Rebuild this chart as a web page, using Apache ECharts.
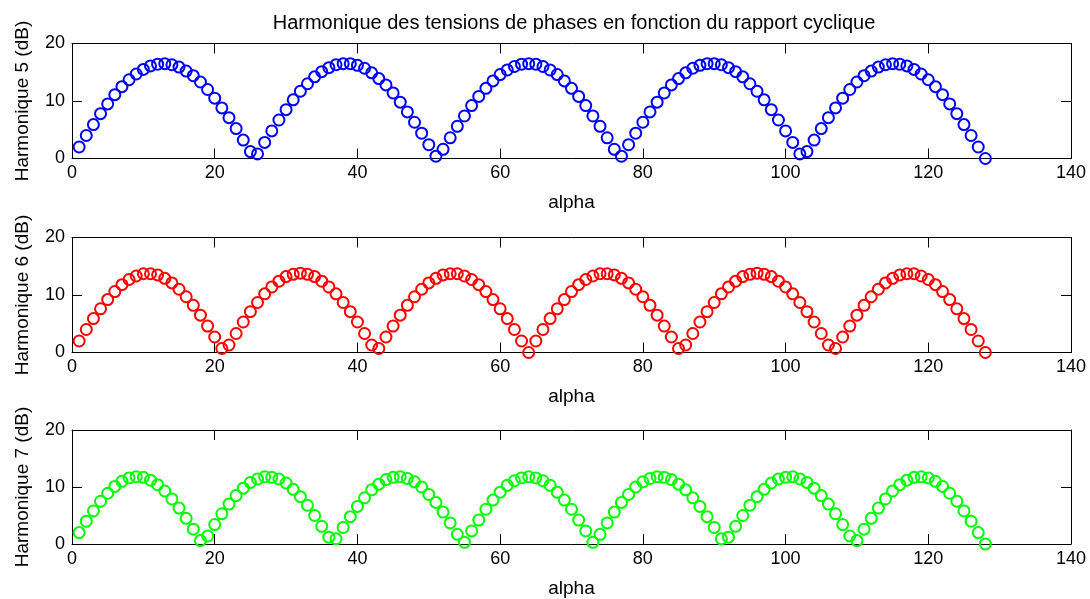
<!DOCTYPE html>
<html>
<head>
<meta charset="utf-8">
<script src="https://cdn.jsdelivr.net/npm/echarts@6/dist/echarts.min.js"></script>
<style>
html,body{margin:0;padding:0;background:#fff;}
#chart{width:1090px;height:599px;}
</style>
</head>
<body>
<div id="chart"></div>
<script>
var titleText = 'Harmonique des tensions de phases en fonction du rapport cyclique';
var xName = 'alpha';
var yNames = ['Harmonique 5 (dB)', 'Harmonique 6 (dB)', 'Harmonique 7 (dB)'];
var xTicks = [0, 20, 40, 60, 80, 100, 120, 140];
var yTicks = [0, 10, 20];

var alpha = [1,2,3,4,5,6,7,8,9,10,11,12,13,14,15,16,17,18,19,20,21,22,23,24,25,26,27,28,29,30,31,32,
33,34,35,36,37,38,39,40,41,42,43,44,45,46,47,48,49,50,51,52,53,54,55,56,57,58,59,60,61,62,63,64,
65,66,67,68,69,70,71,72,73,74,75,76,77,78,79,80,81,82,83,84,85,86,87,88,89,90,91,92,93,94,95,96,
97,98,99,100,101,102,103,104,105,106,107,108,109,110,111,112,113,114,115,116,117,118,119,120,121,122,123,124,125,126,127,128];

var harm5 = [2.0,4.0,5.9,7.8,9.5,11.1,12.5,13.7,14.7,15.5,16.1,16.4,16.5,
16.3,15.9,15.2,14.4,13.3,12.0,10.5,8.8,7.1,5.2,3.2,1.2,
0.8,2.8,4.8,6.7,8.5,10.2,11.7,13.0,14.2,15.1,15.8,16.3,16.5,
16.5,16.2,15.7,14.9,13.9,12.8,11.4,9.8,8.1,6.3,4.4,2.4,0.4,
1.6,3.6,5.6,7.4,9.2,10.8,12.2,13.5,14.6,15.4,16.0,16.4,16.5,
16.4,16.0,15.4,14.6,13.5,12.2,10.8,9.2,7.4,5.6,3.6,1.6,0.4,
2.4,4.4,6.3,8.1,9.8,11.4,12.8,13.9,14.9,15.7,16.2,16.5,16.5,
16.3,15.8,15.1,14.2,13.0,11.7,10.2,8.5,6.7,4.8,2.8,0.8,
1.2,3.2,5.2,7.1,8.8,10.5,12.0,13.3,14.4,15.2,15.9,16.3,16.5,
16.4,16.1,15.5,14.7,13.7,12.5,11.1,9.5,7.8,5.9,4.0,2.0,0];

var harm6 = [2.0,4.0,5.9,7.6,9.2,10.6,11.8,12.7,13.3,13.7,
13.7,13.5,12.9,12.1,11.0,9.7,8.2,6.5,4.6,2.7,0.7,
1.3,3.3,5.3,7.1,8.7,10.2,11.4,12.4,13.2,13.6,13.8,
13.6,13.2,12.4,11.4,10.2,8.7,7.1,5.3,3.3,1.3,0.7,
2.7,4.6,6.5,8.2,9.7,11.0,12.1,12.9,13.5,13.7,13.7,
13.3,12.7,11.8,10.6,9.2,7.6,5.9,4.0,2.0,0,
2.0,4.0,5.9,7.6,9.2,10.6,11.8,12.7,13.3,13.7,
13.7,13.5,12.9,12.1,11.0,9.7,8.2,6.5,4.6,2.7,0.7,
1.3,3.3,5.3,7.1,8.7,10.2,11.4,12.4,13.2,13.6,13.8,
13.6,13.2,12.4,11.4,10.2,8.7,7.1,5.3,3.3,1.3,0.7,
2.7,4.6,6.5,8.2,9.7,11.0,12.1,12.9,13.5,13.7,13.7,
13.3,12.7,11.8,10.6,9.2,7.6,5.9,4.0,2.0,0];

var harm7 = [2.0,4.0,5.8,7.5,8.9,10.1,11.0,11.6,11.8,
11.7,11.2,10.4,9.3,7.9,6.3,4.5,2.6,0.6,
1.4,3.4,5.3,7.0,8.5,9.8,10.8,11.4,11.8,
11.7,11.4,10.7,9.6,8.3,6.8,5.0,3.1,1.2,
0.9,2.9,4.8,6.6,8.1,9.5,10.5,11.3,11.7,11.8,
11.5,10.9,10.0,8.7,7.3,5.6,3.7,1.7,0.3,
2.3,4.2,6.1,7.7,9.1,10.3,11.1,11.6,11.8,
11.6,11.1,10.3,9.1,7.7,6.1,4.2,2.3,0.3,
1.7,3.7,5.6,7.3,8.7,10.0,10.9,11.5,11.8,
11.7,11.3,10.5,9.5,8.1,6.6,4.8,2.9,0.9,
1.2,3.1,5.0,6.8,8.3,9.6,10.7,11.4,11.7,
11.8,11.4,10.8,9.8,8.5,7.0,5.3,3.4,1.4,
0.6,2.6,4.5,6.3,7.9,9.3,10.4,11.2,11.7,
11.8,11.6,11.0,10.1,8.9,7.5,5.8,4.0,2.0,
0];

var seriesValues = [harm5, harm6, harm7];
var seriesColors = ['#0000ff', '#ff0000', '#00ff00'];

var FONT = '"Liberation Sans", Arial, sans-serif';
var gridTops = [43.5, 237.5, 430];
var gridHeight = 115;

var chart = echarts.init(document.getElementById('chart'), null, {renderer: 'canvas'});

var grids = [], xAxes = [], yAxes = [], series = [];
var line = {show: true, onZero: false, lineStyle: {color: '#000', width: 1}};
var tick = {show: true, inside: true, length: 10, lineStyle: {color: '#000', width: 1}};
var lbl = {color: '#000', fontFamily: FONT, fontSize: 18};
var nameStyle = {color: '#000', fontFamily: FONT, fontSize: 19};

for (var i = 0; i < 3; i++) {
  grids.push({left: 72, right: 19, top: gridTops[i], height: gridHeight, containLabel: false, show: false});
  var xMin = xTicks[0], xMax = xTicks[xTicks.length - 1];
  var yMin = yTicks[0], yMax = yTicks[yTicks.length - 1];
  xAxes.push({
    type: 'value', gridIndex: i, position: 'bottom', min: xMin, max: xMax, interval: xTicks[1] - xTicks[0],
    axisLine: line, axisTick: tick, splitLine: {show: false},
    axisLabel: Object.assign({margin: 6}, lbl),
    name: xName, nameLocation: 'middle', nameGap: 35, nameTextStyle: nameStyle
  });
  xAxes.push({
    type: 'value', gridIndex: i, position: 'top', min: xMin, max: xMax, interval: xTicks[1] - xTicks[0],
    axisLine: line, axisTick: tick, splitLine: {show: false}, axisLabel: {show: false}
  });
  yAxes.push({
    type: 'value', gridIndex: i, position: 'left', min: yMin, max: yMax, interval: yTicks[1] - yTicks[0],
    axisLine: line, axisTick: tick, splitLine: {show: false},
    axisLabel: Object.assign({margin: 7}, lbl),
    name: yNames[i], nameLocation: 'middle', nameGap: 40, nameRotate: 90, nameTextStyle: nameStyle
  });
  yAxes.push({
    type: 'value', gridIndex: i, position: 'right', min: yMin, max: yMax, interval: yTicks[1] - yTicks[0],
    axisLine: line, axisTick: tick, splitLine: {show: false}, axisLabel: {show: false}
  });
  var pts = [];
  for (var j = 0; j < alpha.length; j++) pts.push([alpha[j], seriesValues[i][j]]);
  series.push({
    type: 'scatter', xAxisIndex: i * 2, yAxisIndex: i * 2, data: pts,
    symbol: 'circle', symbolSize: 11,
    itemStyle: {color: 'rgba(255,255,255,0)', borderColor: seriesColors[i], borderWidth: 2, opacity: 1},
    emphasis: {disabled: true}, silent: true
  });
}

chart.setOption({
  animation: false,
  backgroundColor: '#fff',
  title: {text: titleText, left: 569, textAlign: 'center', top: 8,
    textStyle: {color: '#000', fontFamily: FONT, fontSize: 20, fontWeight: 'normal'}},
  grid: grids,
  xAxis: xAxes,
  yAxis: yAxes,
  series: series
});
</script>
</body>
</html>
